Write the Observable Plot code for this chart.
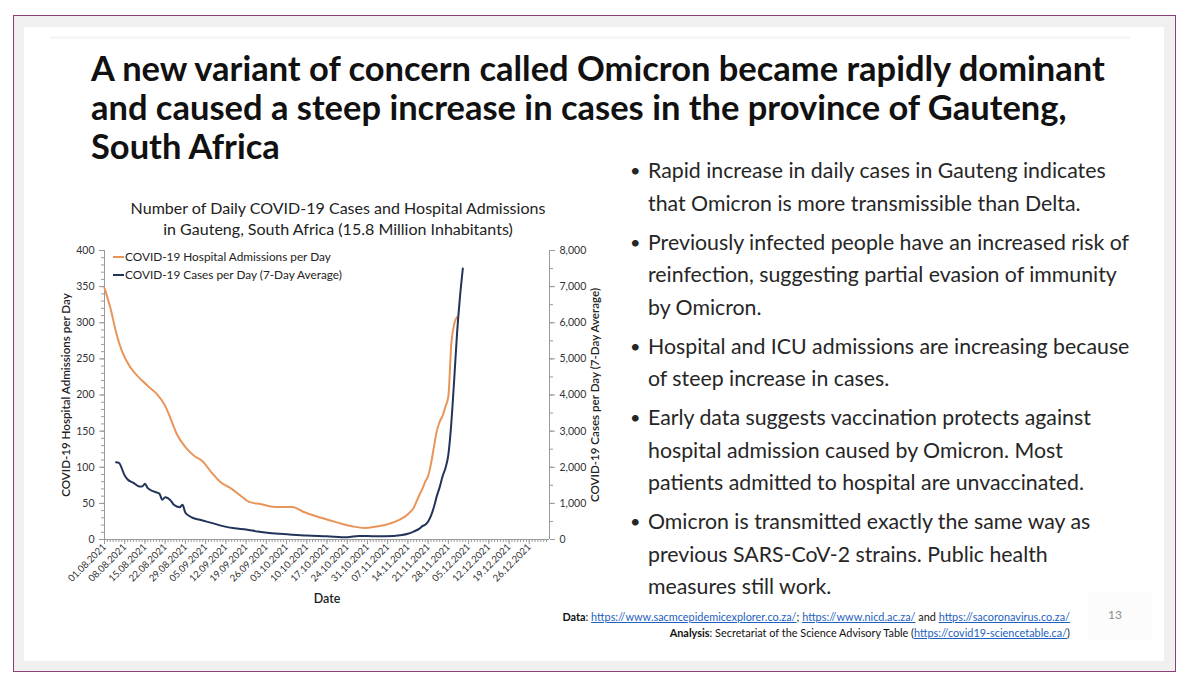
<!DOCTYPE html>
<html><head><meta charset="utf-8">
<script src="https://cdn.jsdelivr.net/npm/d3@7"></script>
<script src="https://cdn.jsdelivr.net/npm/@observablehq/plot@0.6"></script>
<style>
body{margin:0;width:1191px;height:685px;position:relative;overflow:hidden;background:#fff;font-family:Lato,"Open Sans",sans-serif;}
#outer{position:absolute;left:13px;top:15px;width:1163px;height:657px;box-sizing:border-box;border:1.5px solid #8a3f78;background:#f0f0f0;}
#slide{position:absolute;left:24px;top:27px;width:1140px;height:634px;background:#fff;}
#band{position:absolute;left:50px;top:36px;width:1080px;height:3px;background:#f6f6f6;}
#title{position:absolute;left:91px;top:48px;font-weight:700;font-size:30px;line-height:39px;color:#111;white-space:nowrap;}
#ctitle{position:absolute;left:338px;transform:translateX(-50%);top:197px;text-align:center;font-size:15px;line-height:21px;color:#222;white-space:nowrap;}
#chart{position:absolute;left:40px;top:240px;}
#legend{position:absolute;left:113px;top:248px;font-size:11.8px;line-height:18px;color:#222;white-space:nowrap;}
#legend .sw{display:inline-block;width:11px;height:2px;vertical-align:middle;margin-right:1px;position:relative;top:-1px;}
#bullets{position:absolute;left:630px;top:154px;font-size:20px;line-height:32.5px;color:#262626;white-space:nowrap;}
#bullets .p{position:relative;padding-left:18px;margin-bottom:6.5px;}
#bullets .p::before{content:"•";position:absolute;left:0;top:0;font-size:0.85em;}
#footer{position:absolute;right:121px;top:609px;text-align:right;font-size:10.9px;line-height:15.5px;color:#111;white-space:nowrap;}
#footer a{color:#1f5fbf;text-decoration:underline;}
#pnbox{position:absolute;left:1088px;top:592px;width:64px;height:48px;background:#fcfcfc;}
#pn{position:absolute;left:1108px;top:607px;font-size:12px;color:#8c8c8c;}
</style></head>
<body>
<div id="outer"></div>
<div id="slide"></div>
<div id="band"></div>
<div id="title"><span id="t1">A new variant of concern called Omicron became rapidly dominant</span><br>and caused a steep increase in cases in the province of Gauteng,<br>South Africa</div>
<div id="ctitle"><span id="ct1">Number of Daily COVID-19 Cases and Hospital Admissions</span><br>in Gauteng, South Africa (15.8 Million Inhabitants)</div>
<div id="chart"></div>
<div id="legend"></div>
<div id="bullets"></div>
<div id="footer"><b>Data</b>: <a>https://www.sacmcepidemicexplorer.co.za/</a>; <a>https://www.nicd.ac.za/</a> and <a>https://sacoronavirus.co.za/</a><br><b>Analysis</b>: Secretariat of the Science Advisory Table (<a>https://covid19-sciencetable.ca/</a>)</div>
<div id="pnbox"></div>
<div id="pn">13</div>
<script>
// ---- data ----
const seriesNames = ["COVID-19 Hospital Admissions per Day", "COVID-19 Cases per Day (7-Day Average)"];
const seriesColors = ["#E8955A", "#22345A"];

const hospDates = ["2021-08-01","2021-08-03","2021-08-05","2021-08-07","2021-08-10","2021-08-14","2021-08-17","2021-08-19","2021-08-22","2021-08-24","2021-08-26","2021-08-29","2021-09-01","2021-09-04","2021-09-07","2021-09-10","2021-09-14","2021-09-17","2021-09-20","2021-09-24","2021-09-29","2021-10-05","2021-10-09","2021-10-15","2021-10-21","2021-10-26","2021-10-30","2021-11-03","2021-11-07","2021-11-11","2021-11-14","2021-11-16","2021-11-18","2021-11-19","2021-11-20","2021-11-21","2021-11-22","2021-11-23","2021-11-24","2021-11-25","2021-11-26","2021-11-27","2021-11-28","2021-11-29","2021-11-30","2021-12-01"];
const hospValues = [348,321,287,261,238,220,209,202,185,166,146,128,116,108,93,80,70,61,52,49,45,45,38,30,23,18,16,18,21,27,35,44,62,70,80,88,105,128,150,163,171,184,198,270,298,308];

const caseDates = ["2021-08-05","2021-08-06","2021-08-08","2021-08-09","2021-08-11","2021-08-13","2021-08-14","2021-08-15","2021-08-16","2021-08-18","2021-08-20","2021-08-21","2021-08-22","2021-08-24","2021-08-25","2021-08-27","2021-08-28","2021-08-29","2021-08-31","2021-09-03","2021-09-07","2021-09-11","2021-09-15","2021-09-19","2021-09-23","2021-09-27","2021-10-04","2021-10-10","2021-10-17","2021-10-24","2021-10-28","2021-11-03","2021-11-09","2021-11-12","2021-11-14","2021-11-16","2021-11-18","2021-11-19","2021-11-20","2021-11-21","2021-11-22","2021-11-23","2021-11-24","2021-11-25","2021-11-26","2021-11-27","2021-11-28","2021-11-29","2021-11-30","2021-12-01","2021-12-02","2021-12-03"];
const caseValues = [2140,2120,1770,1660,1570,1470,1465,1540,1420,1330,1270,1100,1170,1070,960,895,960,740,620,545,460,370,310,275,220,180,140,110,90,65,100,90,100,125,160,220,300,370,410,500,660,900,1200,1450,1750,1980,2350,3200,4400,5700,6700,7500];

const xTickLabels = ["01.08.2021","08.08.2021","15.08.2021","22.08.2021","29.08.2021","05.09.2021","12.09.2021","19.09.2021","26.09.2021","03.10.2021","10.10.2021","17.10.2021","24.10.2021","31.10.2021","07.11.2021","14.11.2021","21.11.2021","28.11.2021","05.12.2021","12.12.2021","19.12.2021","26.12.2021"];
const leftTicks = [0,50,100,150,200,250,300,350,400];
const rightTicks = [0,1000,2000,3000,4000,5000,6000,7000,8000];
const rightMax = 8000, leftMax = 400;

const bulletTexts = [
  ["Rapid increase in daily cases in Gauteng indicates","that Omicron is more transmissible than Delta."],
  ["Previously infected people have an increased risk of","reinfection, suggesting partial evasion of immunity","by Omicron."],
  ["Hospital and ICU admissions are increasing because","of steep increase in cases."],
  ["Early data suggests vaccination protects against","hospital admission caused by Omicron. Most","patients admitted to hospital are unvaccinated."],
  ["Omicron is transmitted exactly the same way as","previous SARS-CoV-2 strains. Public health","measures still work."]
];

// ---- build ----
const pISO = d3.utcParse("%Y-%m-%d");
const pTick = d3.utcParse("%d.%m.%Y");
const fTick = d3.utcFormat("%d.%m.%Y");
const hosp = hospDates.map((d,i) => ({date: pISO(d), value: hospValues[i]}));
const cases = caseDates.map((d,i) => ({date: pISO(d), value: caseValues[i]}));
const xTicks = xTickLabels.map(pTick);
const xStart = xTicks[0];
const xEnd = d3.utcDay.offset(xTicks[xTicks.length-1], 7);
const ratio = rightMax / leftMax;

const axisColor = "#9a9a9a";
const plot = Plot.plot({
  width: 570, height: 370,
  marginLeft: 64, marginRight: 61, marginTop: 10, marginBottom: 71,
  style: {fontFamily: "Lato, 'Open Sans', sans-serif", fontSize: "10px", color: "#333", background: "transparent", overflow: "visible"},
  x: {type: "utc", domain: [xStart, xEnd]},
  y: {domain: [0, leftMax]},
  marks: [
    Plot.axisX({ticks: d3.utcDays(xStart, xEnd), tickSize: 3, tickFormat: () => "", label: null, stroke: axisColor}),
    Plot.axisX({ticks: xTicks, tickSize: 5, tickFormat: fTick, tickRotate: -45, fontSize: 9.6, tickPadding: 1, stroke: axisColor, fill: "#333"}),
    Plot.text(["Date"], {frameAnchor: "bottom", lineAnchor: "middle", dy: 59, fontSize: 12.5, fontWeight: 600, fill: "#222"}),
    Plot.axisY({anchor: "left", ticks: d3.range(0, leftMax + 1, 10), tickSize: 3, tickFormat: () => "", label: null, stroke: axisColor}),
    Plot.axisY({anchor: "left", ticks: leftTicks, tickSize: 5, tickPadding: 5, stroke: axisColor, fill: "#333", fontSize: 10.5, label: null}),
    Plot.text([seriesNames[0]], {frameAnchor: "left", textAnchor: "middle", lineAnchor: "middle", dx: -38, rotate: -90, fontSize: 11.6, fontWeight: 600, fill: "#222"}),
    Plot.axisY({anchor: "right", ticks: d3.range(0, leftMax + 1, 25), tickSize: 3, tickFormat: () => "", label: null, stroke: axisColor}),
    Plot.axisY({anchor: "right", ticks: rightTicks.map(v => v / ratio), tickSize: 5, tickPadding: 5, stroke: axisColor, fill: "#333", fontSize: 10.5,
      tickFormat: d => d3.format(",")(d * ratio), label: null}),
    Plot.text([seriesNames[1]], {frameAnchor: "right", textAnchor: "middle", lineAnchor: "middle", dx: 46, rotate: -90, fontSize: 11.6, fontWeight: 600, fill: "#222"}),
    Plot.ruleX([xStart, xEnd], {stroke: axisColor}),
    Plot.ruleY([0], {stroke: axisColor}),
    Plot.line(hosp, {x: "date", y: "value", stroke: seriesColors[0], strokeWidth: 2, curve: "monotone-x"}),
    Plot.line(cases, {x: "date", y: d => d.value / ratio, stroke: seriesColors[1], strokeWidth: 2, curve: "monotone-x"})
  ]
});
document.getElementById("chart").appendChild(plot);

// legend
const lg = document.getElementById("legend");
seriesNames.forEach((n,i) => {
  const row = document.createElement("div");
  row.innerHTML = `<span class="sw" style="background:${seriesColors[i]}"></span>${n}`;
  lg.appendChild(row);
});

// bullets
const bl = document.getElementById("bullets");
bulletTexts.forEach((lines, i) => {
  const p = document.createElement("div");
  p.className = "p";
  p.innerHTML = lines.map((l, j) => (i === 0 && j === 0) ? `<span id="b1">${l}</span>` : l).join("<br>");
  bl.appendChild(p);
});

// fit text blocks to measured widths in the reference
function fit(container, spanId, target) {
  const el = document.getElementById(container);
  const w = document.getElementById(spanId).getBoundingClientRect().width;
  const fs = parseFloat(getComputedStyle(el).fontSize);
  el.style.fontSize = (fs * target / w).toFixed(2) + "px";
}
fit("title", "t1", 1014);
fit("ctitle", "ct1", 415);
fit("bullets", "b1", 458);
</script>
</body></html>
